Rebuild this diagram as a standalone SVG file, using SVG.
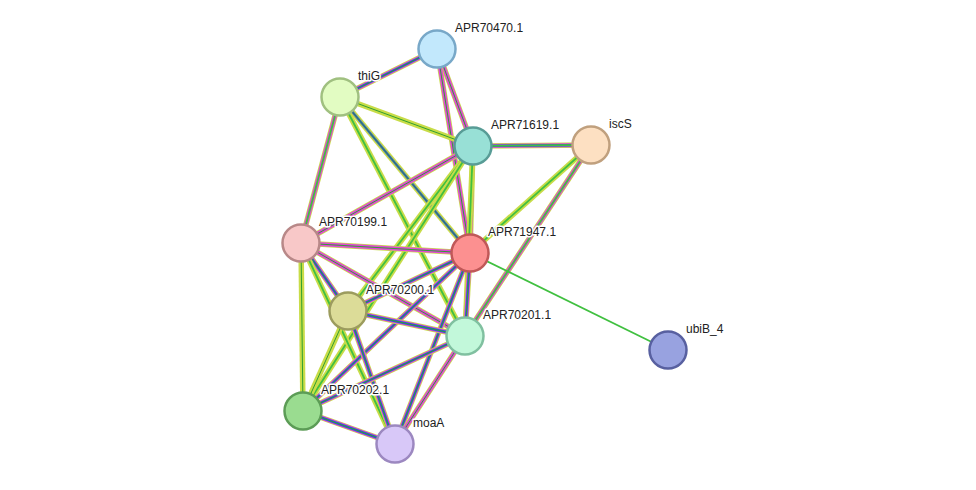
<svg xmlns="http://www.w3.org/2000/svg" xmlns:xlink="http://www.w3.org/1999/xlink" width="976" height="490" viewBox="0 0 976 490">
<style>
.a{fill:none;stroke:#c8dc48;stroke-width:5.5}
.b{fill:none;stroke:#e048d8;stroke-width:4}
.c{fill:none;stroke:#3050e0;stroke-width:2.4}
.d{fill:none;stroke:#30a030;stroke-width:1}
.g{fill:none;stroke:#40c040;stroke-width:1.8}
.n{stroke-width:2.5}
text{font-family:"Liberation Sans",Arial,sans-serif;font-size:12px;fill:#222;paint-order:stroke;stroke:#fff;stroke-width:3px;stroke-linejoin:round}
</style>
<defs>
<path id="e1" d="M437 49L340 97"/><path id="e2" d="M437 49L473 146"/><path id="e3" d="M437 49L470 253"/>
<path id="e4" d="M340 97L473 146"/><path id="e5" d="M340 97L470 253"/><path id="e6" d="M340 97L301 243"/>
<path id="e7" d="M340 97L465 336"/><path id="e8" d="M473 146L591 145"/><path id="e9" d="M473 146L470 253"/>
<path id="e10" d="M473 146L301 243"/><path id="e11" d="M473 146L348 311"/><path id="e12" d="M473 146L465 336"/>
<path id="e13" d="M473 146L303 411"/><path id="e14" d="M591 145L470 253"/><path id="e15" d="M591 145L465 336"/>
<path id="e16" d="M301 243L470 253"/><path id="e17" d="M301 243L348 311"/><path id="e18" d="M301 243L465 336"/>
<path id="e19" d="M301 243L303 411"/><path id="e20" d="M301 243L395 444"/><path id="e21" d="M470 253L348 311"/>
<path id="e22" d="M470 253L465 336"/><path id="e23" d="M470 253L303 411"/><path id="e24" d="M470 253L395 444"/>
<path id="e26" d="M348 311L465 336"/><path id="e27" d="M348 311L303 411"/><path id="e28" d="M348 311L395 444"/>
<path id="e29" d="M465 336L303 411"/><path id="e30" d="M465 336L395 444"/><path id="e31" d="M303 411L395 444"/>
</defs>
<rect width="976" height="490" fill="#fff"/>
<g id="connectors">
<use href="#e1" class="a"/><use href="#e1" class="b"/><use href="#e1" class="c"/><use href="#e1" class="d"/>
<use href="#e2" class="a"/><use href="#e2" class="b"/><use href="#e2" class="d"/>
<use href="#e3" class="a"/><use href="#e3" class="b"/><use href="#e3" class="d"/>
<use href="#e4" class="a"/><use href="#e4" class="d"/>
<use href="#e5" class="a"/><use href="#e5" class="c"/><use href="#e5" class="d"/>
<use href="#e6" class="a"/><use href="#e6" class="b"/><use href="#e6" class="g"/>
<use href="#e7" class="a"/><use href="#e7" class="g"/>
<use href="#e8" class="a"/><use href="#e8" class="b"/><use href="#e8" class="c"/><use href="#e8" class="g"/>
<use href="#e9" class="a"/><use href="#e9" class="b"/><use href="#e9" class="c"/><use href="#e9" class="d"/>
<use href="#e10" class="a"/><use href="#e10" class="b"/><use href="#e10" class="d"/>
<use href="#e11" class="a"/><use href="#e11" class="g"/>
<use href="#e12" class="a"/><use href="#e12" class="g"/>
<use href="#e13" class="a"/><use href="#e13" class="g"/>
<use href="#e14" class="a"/><use href="#e14" class="g"/>
<use href="#e15" class="a"/><use href="#e15" class="b"/><use href="#e15" class="g"/>
<use href="#e16" class="a"/><use href="#e16" class="b"/><use href="#e16" class="d"/>
<use href="#e17" class="a"/><use href="#e17" class="b"/><use href="#e17" class="c"/><use href="#e17" class="d"/>
<use href="#e18" class="a"/><use href="#e18" class="b"/><use href="#e18" class="d"/>
<use href="#e19" class="a"/><use href="#e19" class="d"/>
<use href="#e20" class="a"/><use href="#e20" class="g"/>
<use href="#e21" class="a"/><use href="#e21" class="b"/><use href="#e21" class="c"/><use href="#e21" class="d"/>
<use href="#e22" class="a"/><use href="#e22" class="b"/><use href="#e22" class="c"/><use href="#e22" class="d"/>
<use href="#e23" class="a"/><use href="#e23" class="b"/><use href="#e23" class="c"/><use href="#e23" class="d"/>
<use href="#e24" class="a"/><use href="#e24" class="b"/><use href="#e24" class="c"/><use href="#e24" class="d"/>
<line x1="470" y1="253" x2="668" y2="350" class="g" stroke-width="1.5"/>
<use href="#e26" class="a"/><use href="#e26" class="b"/><use href="#e26" class="c"/><use href="#e26" class="d"/>
<use href="#e27" class="a"/><use href="#e27" class="d"/>
<use href="#e28" class="a"/><use href="#e28" class="b"/><use href="#e28" class="c"/><use href="#e28" class="d"/>
<use href="#e29" class="a"/><use href="#e29" class="b"/><use href="#e29" class="c"/><use href="#e29" class="d"/>
<use href="#e30" class="a"/><use href="#e30" class="b"/><use href="#e30" class="d"/>
<use href="#e31" class="a"/><use href="#e31" class="b"/><use href="#e31" class="c"/><use href="#e31" class="d"/>
</g>
<g id="n-APR70470.1"><circle class="n" cx="437" cy="49" r="18.5" fill="#c2e8fc" stroke="#78a8c8"/><text x="455" y="32">APR70470.1</text></g>
<g id="n-thiG"><circle class="n" cx="340" cy="97" r="18.5" fill="#e2fcc2" stroke="#a0c080"/><text x="358" y="80">thiG</text></g>
<g id="n-APR71619.1"><circle class="n" cx="473" cy="146" r="18.5" fill="#98e0d6" stroke="#589c96"/><text x="491" y="129">APR71619.1</text></g>
<g id="n-iscS"><circle class="n" cx="591" cy="145" r="18.5" fill="#fde0c2" stroke="#c0a07e"/><text x="609" y="128">iscS</text></g>
<g id="n-APR70199.1"><circle class="n" cx="301" cy="243" r="18.5" fill="#f8c8c8" stroke="#b88888"/><text x="319" y="226">APR70199.1</text></g>
<g id="n-APR71947.1"><circle class="n" cx="470" cy="253" r="18.5" fill="#fc9090" stroke="#c05858"/><text x="488" y="236">APR71947.1</text></g>
<g id="n-APR70200.1"><circle class="n" cx="348" cy="311" r="18.5" fill="#dcdc98" stroke="#9c9c5e"/><text x="366" y="294">APR70200.1</text></g>
<g id="n-APR70201.1"><circle class="n" cx="465" cy="336" r="18.5" fill="#c2f8da" stroke="#80c0a0"/><text x="483" y="319">APR70201.1</text></g>
<g id="n-ubiB_4"><circle class="n" cx="668" cy="350" r="18.5" fill="#98a2e0" stroke="#5860a0"/><text x="686" y="333">ubiB_4</text></g>
<g id="n-APR70202.1"><circle class="n" cx="303" cy="411" r="18.5" fill="#9adc90" stroke="#5c9c56"/><text x="321" y="394">APR70202.1</text></g>
<g id="n-moaA"><circle class="n" cx="395" cy="444" r="18.5" fill="#d8c8f8" stroke="#9c88c0"/><text x="413" y="427">moaA</text></g>
</svg>
